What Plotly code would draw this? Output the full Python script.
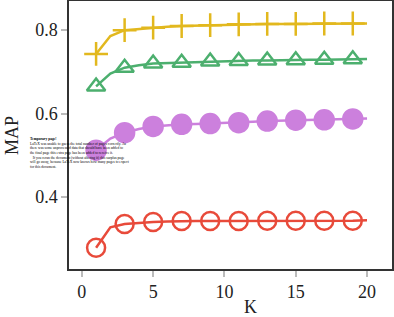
import plotly.graph_objects as go

K = list(range(1, 21))
map_plus = [0.743, 0.786, 0.800, 0.803, 0.806, 0.808, 0.810, 0.811, 0.812, 0.813,
            0.814, 0.814, 0.815, 0.815, 0.815, 0.816, 0.816, 0.816, 0.816, 0.816]
map_tri = [0.665, 0.696, 0.710, 0.716, 0.720, 0.721, 0.722, 0.724, 0.725, 0.725,
           0.726, 0.727, 0.727, 0.728, 0.728, 0.729, 0.729, 0.730, 0.730, 0.731]
map_dot = [0.512, 0.540, 0.554, 0.563, 0.569, 0.572, 0.574, 0.575, 0.576, 0.577,
           0.578, 0.580, 0.582, 0.583, 0.584, 0.585, 0.585, 0.586, 0.587, 0.588]
map_ring = [0.278, 0.327, 0.335, 0.338, 0.340, 0.341, 0.342, 0.342, 0.342, 0.342,
            0.342, 0.342, 0.343, 0.343, 0.343, 0.343, 0.343, 0.343, 0.343, 0.344]
x_ticks = [0, 5, 10, 15, 20]
y_ticks = [0.4, 0.6, 0.8]

series = [
    (map_plus, "#e2b81e", "cross-thin", 17),
    (map_tri, "#4caf6e", "triangle-up-open", 16),
    (map_dot, "#cc80dd", "circle", 19),
    (map_ring, "#e84a3a", "circle-open", 18),
]

fig = go.Figure()
for vals, col, sym, sz in series:
    fig.add_trace(go.Scatter(x=K, y=vals, mode="lines",
                             line=dict(color=col, width=2.5),
                             showlegend=False, hoverinfo="skip"))
    fig.add_trace(go.Scatter(x=K[::2], y=vals[::2], mode="markers",
                             marker=dict(symbol=sym, size=sz, color=col,
                                         line=dict(color=col, width=2.5)),
                             showlegend=False))

W, H = 394, 317
L, R, T, B = 69, 392, 1, 269


def px(xp):
    return (xp - L) / (R - L)


def py(yp):
    return (B - yp) / (B - T)


note = ("<b>Temporary page!</b><br>"
        "LaTeX was unable to guess the total number of pages correctly. As<br>"
        "there was some unprocessed data that should have been added to<br>"
        "the final page this extra page has been added to receive it.<br>"
        "&nbsp;&nbsp;&nbsp;If you rerun the document (without altering it) this surplus page<br>"
        "will go away, because LaTeX now knows how many pages to expect<br>"
        "for this document.")
fig.add_annotation(x=px(28), y=py(135), xref="paper", yref="paper",
                   text=note, showarrow=False, align="left", xanchor="left", yanchor="top",
                   font=dict(family="Liberation Serif", size=3.6, color="#000"))
fig.add_annotation(x=px(250), y=py(307), xref="paper", yref="paper", text="K",
                   showarrow=False, xanchor="center", yanchor="middle",
                   font=dict(family="Liberation Serif", size=18, color="#222"))
fig.add_annotation(x=px(12), y=py(135), xref="paper", yref="paper", text="MAP",
                   showarrow=False, xanchor="center", yanchor="middle", textangle=-90,
                   font=dict(family="Liberation Serif", size=18, color="#222"))

fig.update_layout(
    width=W, height=H,
    margin=dict(l=L, r=W - R, t=T, b=H - B, autoexpand=False),
    paper_bgcolor="white", plot_bgcolor="white",
    font=dict(family="Liberation Serif", size=18, color="#222"),
)
fig.update_xaxes(range=[-0.9, 21.75], tickvals=x_ticks, ticks="outside", ticklen=6,
                 tickcolor="#bbb", tickwidth=1.5, showgrid=False, zeroline=False,
                 showline=True, linecolor="#333", linewidth=1.5, mirror=True,
                 automargin=False)
fig.update_yaxes(range=[0.227, 0.870], tickvals=y_ticks, ticktext=["0.4", "0.6", "0.8"],
                 ticks="outside", ticklen=6,
                 tickcolor="#bbb", tickwidth=1.5, showgrid=False, zeroline=False,
                 showline=True, linecolor="#333", linewidth=1.5, mirror=True,
                 automargin=False)

fig.write_html("out.html", config={"displayModeBar": False},
               post_script="document.body.style.margin='0';document.body.style.overflow='hidden';")
